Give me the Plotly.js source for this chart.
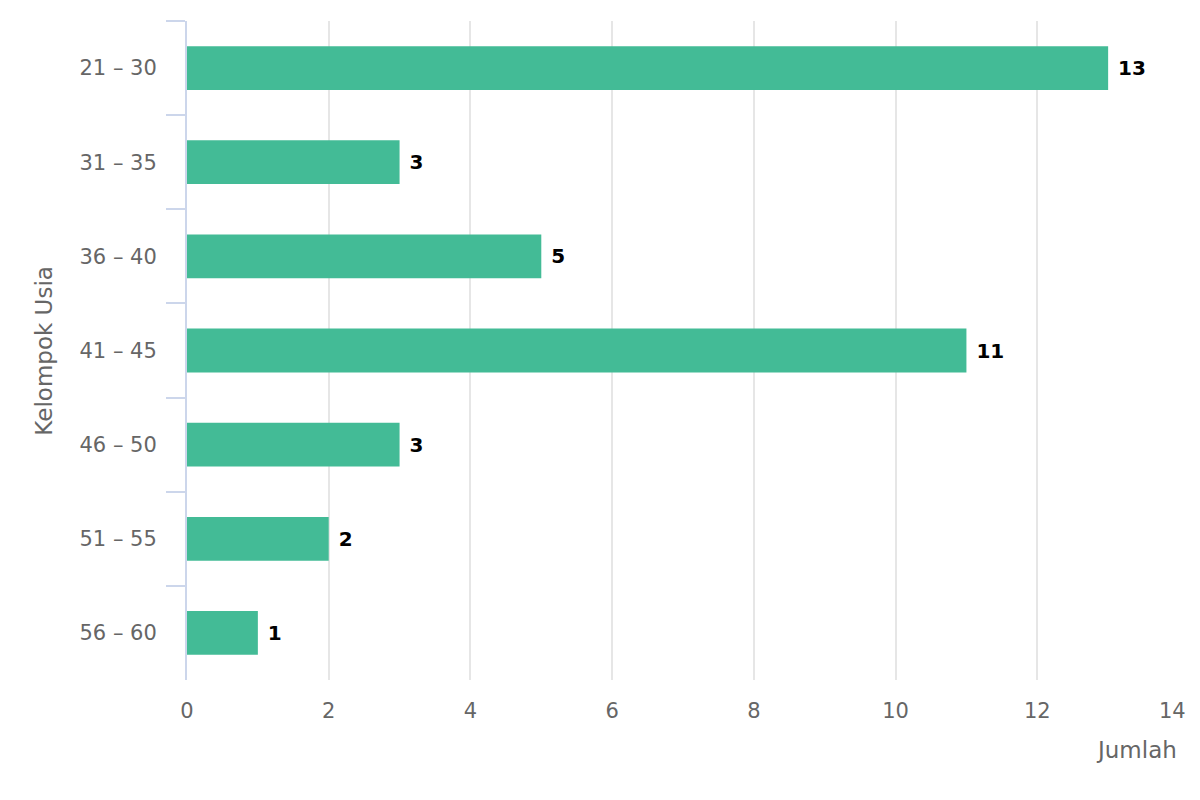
<!DOCTYPE html>
<html>
<head>
<meta charset="utf-8">
<script src="https://cdn.plot.ly/plotly-3.0.1.min.js"></script>
<style>html,body{margin:0;padding:0;background:#fff;}#chart{width:1200px;height:800px;}</style>
</head>
<body>
<div id="chart"></div>
<script>
const categories = ["21 – 30", "31 – 35", "36 – 40", "41 – 45", "46 – 50", "51 – 55", "56 – 60"];
const counts = [13, 3, 5, 11, 3, 2, 1];
const xTicks = [0, 2, 4, 6, 8, 10, 12, 14];
const xTitle = "Jumlah";
const yTitle = "Kelompok Usia";

const FONT = "DejaVu Sans, Verdana, sans-serif";

const trace = {
  type: "bar",
  orientation: "h",
  x: counts,
  y: categories,
  marker: { color: "#43bb96", line: { width: 0 } },
  text: counts.map(v => "\u00a0" + v),
  textposition: "outside",
  textfont: { family: FONT, size: 20, color: "#000000", weight: "bold" },
  constraintext: "none",
  cliponaxis: false,
  hoverinfo: "skip"
};

// last tick label nudged left so it stays inside the chart, as in the reference
const xTickText = xTicks.map((v, i) => i === xTicks.length - 1 ? String(v) + "\u00a0\u00a0" : String(v));

const layout = {
  width: 1200,
  height: 800,
  margin: { l: 187, r: 21, t: 21, b: 120, pad: 0 },
  paper_bgcolor: "#ffffff",
  plot_bgcolor: "#ffffff",
  bargap: 0.535,
  showlegend: false,
  hovermode: false,
  font: { family: FONT, color: "#666666" },
  xaxis: {
    range: [0, 14],
    tickvals: xTicks,
    ticktext: xTickText,
    ticklabeloverflow: "allow",
    showgrid: true,
    gridcolor: "#e6e6e6",
    gridwidth: 2,
    zeroline: false,
    showline: false,
    ticks: "",
    ticklabelstandoff: 16,
    tickfont: { family: FONT, size: 21, color: "#666666" }
  },
  yaxis: {
    type: "category",
    categoryorder: "array",
    categoryarray: categories,
    range: [6.5, -0.5],
    showgrid: false,
    zeroline: false,
    showline: true,
    linecolor: "#ccd6eb",
    linewidth: 2,
    ticks: "outside",
    tickson: "boundaries",
    ticklen: 19,
    tickcolor: "#ccd6eb",
    tickwidth: 2,
    ticklabelstandoff: 24,
    tickfont: { family: FONT, size: 21, color: "#666666" }
  },
  annotations: [
    {
      text: yTitle, xref: "paper", yref: "paper",
      x: -0.145, y: 0.5, xanchor: "center", yanchor: "middle",
      textangle: -90, showarrow: false,
      font: { family: FONT, size: 23, color: "#666666" }
    },
    {
      text: xTitle, xref: "paper", yref: "paper",
      x: 1, y: -0.106, xanchor: "right", yanchor: "middle",
      showarrow: false,
      font: { family: FONT, size: 23, color: "#666666" }
    }
  ]
};

Plotly.newPlot("chart", [trace], layout, { displayModeBar: false, staticPlot: true });
</script>
</body>
</html>
